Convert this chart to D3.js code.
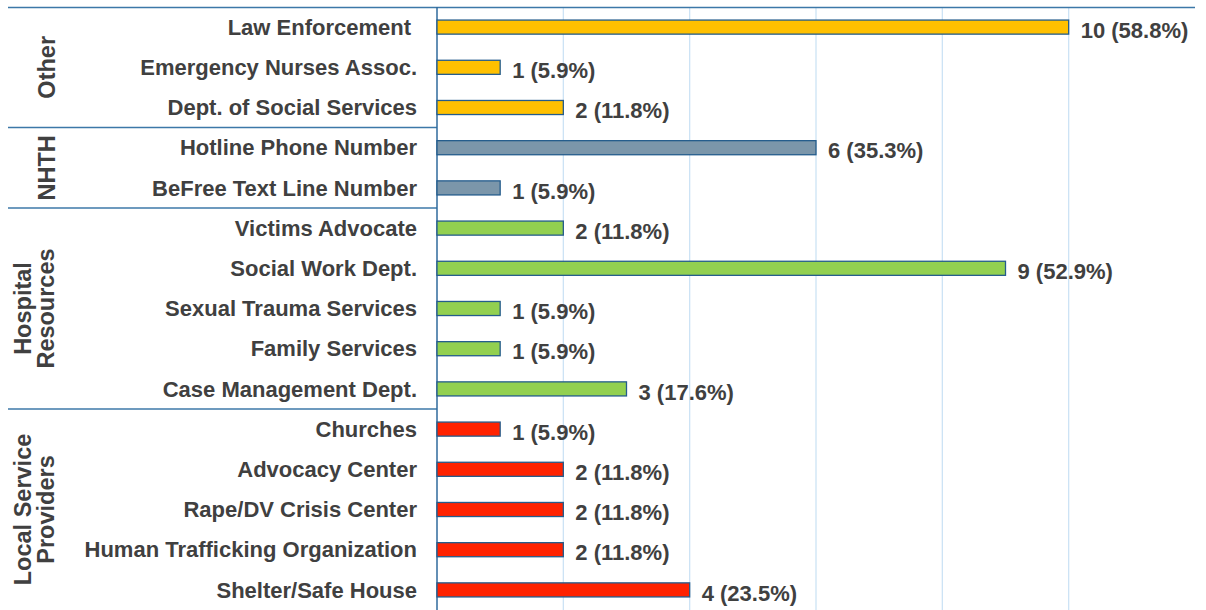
<!DOCTYPE html>
<html><head><meta charset="utf-8">
<script src="https://cdn.jsdelivr.net/npm/d3@7"></script>
<style>
body{margin:0;background:#fff;}
svg text{font-family:"Liberation Sans",Arial,sans-serif;font-weight:bold;fill:#404040;}
</style></head>
<body><svg id="c" width="1206" height="610"></svg>
<script>
const categories = ["Law Enforcement","Emergency Nurses Assoc.","Dept. of Social Services",
  "Hotline Phone Number","BeFree Text Line Number",
  "Victims Advocate","Social Work Dept.","Sexual Trauma Services","Family Services","Case Management Dept.",
  "Churches","Advocacy Center","Rape/DV Crisis Center","Human Trafficking Organization","Shelter/Safe House"];
const values = [10,1,2, 6,1, 2,9,1,1,3, 1,2,2,2,4];
const percents = ["58.8%","5.9%","11.8%","35.3%","5.9%","11.8%","52.9%","5.9%","5.9%","17.6%","5.9%","11.8%","11.8%","11.8%","23.5%"];
const groupOf = ["Other","Other","Other","NHTH","NHTH","Hospital","Hospital","Hospital","Hospital","Hospital","Local","Local","Local","Local","Local"];
const groups = ["Other","NHTH","Hospital","Local"];
const groupLabels = [["Other"],["NHTH"],["Hospital","Resources"],["Local Service","Providers"]];
const groupColors = ["#FFC000","#7B96AA","#92D050","#FF2200"];
const xTicks = [2,4,6,8,10];

(function(){
const svg = d3.select("#c");
const L = 437, R = 1195, T = 7, B = 610;
const x = d3.scaleLinear().domain([0,12]).range([L,R]);
const y = d3.scaleBand().domain(d3.range(categories.length)).range([T,B]).paddingInner(0.65).paddingOuter(0.325);
const color = d3.scaleOrdinal().domain(groups).range(groupColors);

svg.append("g").selectAll("line").data(xTicks).join("line")
  .attr("x1",d=>x(d)).attr("x2",d=>x(d)).attr("y1",T).attr("y2",B)
  .attr("stroke","#CDE3F5").attr("stroke-width",1.3);

svg.append("line").attr("x1",8).attr("x2",R).attr("y1",T+0.5).attr("y2",T+0.5)
  .attr("stroke","#3C78A8").attr("stroke-width",1.5);

const step = y.step();
const bounds = [];
groups.forEach((g,i)=>{ if(i>0){ const idx = groupOf.indexOf(g); bounds.push(T + idx*step);} });
svg.append("g").selectAll("line").data(bounds).join("line")
  .attr("x1",8).attr("x2",L).attr("y1",d=>d).attr("y2",d=>d)
  .attr("stroke","#3C78A8").attr("stroke-width",1.5);

svg.append("line").attr("x1",L).attr("x2",L).attr("y1",T).attr("y2",B)
  .attr("stroke","#2F6A9C").attr("stroke-width",1.5);

svg.append("g").selectAll("rect").data(values).join("rect")
  .attr("x",x(0)).attr("y",(d,i)=>y(i)).attr("width",d=>x(d)-x(0)).attr("height",y.bandwidth())
  .attr("fill",(d,i)=>color(groupOf[i])).attr("stroke","#245C8C").attr("stroke-width",1.3);

svg.append("g").selectAll("text").data(categories).join("text")
  .attr("x",(d,i)=>i===0?411:417).attr("y",(d,i)=>y(i)+y.bandwidth()/2).attr("dy","0.35em")
  .attr("text-anchor","end").style("font-size","22px").text(d=>d);

svg.append("g").selectAll("text").data(values).join("text")
  .attr("x",d=>x(d)+12).attr("y",(d,i)=>y(i)+y.bandwidth()/2+3).attr("dy","0.35em")
  .style("font-size","22px").text((d,i)=>d+" ("+percents[i]+")");

const gStart = groups.map(g=>groupOf.indexOf(g));
const gEnd = groups.map(g=>groupOf.lastIndexOf(g));
groups.forEach((g,i)=>{
  const cy = T + (gStart[i] + (gEnd[i]-gStart[i]+1)/2)*step;
  const lines = groupLabels[i];
  const xs = lines.length===1 ? [47] : [23,46];
  lines.forEach((l,j)=>{
    svg.append("text").attr("transform",`translate(${xs[j]},${cy}) rotate(-90)`)
      .attr("text-anchor","middle").attr("dy","0.35em").style("font-size","23.5px").text(l);
  });
});
})();
</script></body></html>
